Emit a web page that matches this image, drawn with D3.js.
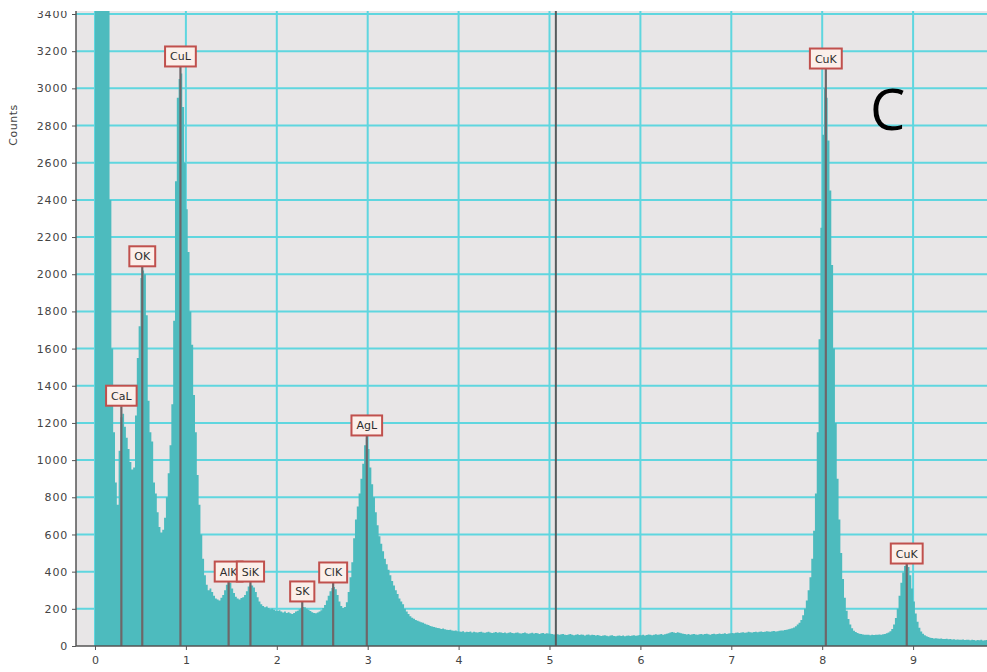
<!DOCTYPE html>
<html>
<head>
<meta charset="utf-8">
<script src="https://cdn.jsdelivr.net/npm/d3@7"></script>
<style>
  html, body { margin: 0; padding: 0; background: #ffffff; }
  svg { display: block; }
</style>
</head>
<body>
<svg id="chart" width="987" height="672"></svg>
<script>
// EDS spectrum: counts per 0.02 keV channel, starting at 0 keV
const channelWidth = 0.02;
const spectrumCounts = [
  // 0.00 - 0.48
  4800, 6500, 7800, 8200, 7600, 6200, 4600, 3550, 2400, 1600, 1150, 880, 760, 1050, 1230, 1250, 1180, 1120, 1060, 990, 950, 960, 1240, 1550, 1720,
  // 0.50 - 0.98
  1980, 2020, 2000, 1780, 1320, 1150, 1100, 880, 820, 720, 640, 610, 625, 690, 800, 930, 1080, 1300, 1750, 2500, 2950, 3050, 3080, 2900, 2600,
  // 1.00 - 1.48
  2350, 2120, 1800, 1620, 1350, 1150, 920, 760, 600, 470, 380, 330, 300, 310, 290, 270, 255, 250, 245, 260, 275, 300, 330, 345, 340,
  // 1.50 - 1.98
  310, 285, 265, 255, 250, 258, 262, 275, 295, 320, 330, 325, 315, 290, 262, 240, 225, 215, 208, 212, 205, 198, 202, 195, 190,
  // 2.00 - 2.48
  188, 192, 185, 180, 186, 178, 182, 176, 172, 178, 185, 190, 198, 205, 210, 208, 200, 195, 188, 182, 178, 176, 180, 186, 192,
  // 2.50 - 2.98
  205, 220, 245, 270, 295, 312, 318, 305, 275, 240, 215, 205, 210, 235, 290, 370, 450, 580, 680, 750, 820, 900, 980, 1080, 1120,
  // 3.00 - 3.48
  1060, 960, 870, 800, 720, 650, 590, 550, 510, 470, 440, 410, 380, 350, 325, 300, 280, 255, 240, 225, 200, 185, 172, 160, 152,
  // 3.50 - 3.98
  146, 140, 136, 132, 128, 125, 120, 116, 113, 108, 105, 102, 100, 97, 95, 92, 94, 90, 88, 86, 88, 84, 82, 84, 80,
  // 4.00 - 4.48
  78, 76, 79, 74, 77, 75, 78, 73, 76, 74, 72, 75, 77, 73, 71, 74, 76, 72, 70, 73, 75, 71, 74, 72, 70,
  // 4.50 - 4.98
  72, 69, 71, 74, 70, 68, 71, 73, 69, 67, 70, 72, 68, 66, 69, 71, 67, 70, 68, 65, 68, 70, 66, 69, 67,
  // 5.00 - 5.48
  66, 64, 62, 65, 63, 60, 63, 65, 61, 59, 62, 64, 60, 58, 61, 63, 59, 62, 60, 57, 60, 62, 58, 61, 59,
  // 5.50 - 5.98
  57, 59, 56, 54, 57, 58, 55, 53, 56, 58, 54, 52, 55, 57, 54, 56, 53, 55, 57, 54, 56, 58, 55, 57, 59,
  // 6.00 - 6.48
  58, 60, 57, 59, 62, 60, 58, 61, 63, 60, 62, 64, 61, 63, 66, 68, 72, 75, 73, 70, 74, 71, 68, 66, 64,
  // 6.50 - 6.98
  62, 64, 61, 63, 65, 62, 60, 63, 65, 62, 64, 66, 63, 61, 64, 66, 63, 65, 67, 64, 66, 68, 65, 67, 69,
  // 7.00 - 7.48
  70, 68, 71, 73, 70, 72, 74, 71, 73, 76, 74, 72, 75, 77, 74, 76, 78, 75, 77, 80, 78, 76, 79, 81, 78,
  // 7.50 - 7.98
  80, 82, 84, 83, 86, 88, 90, 93, 96, 100, 106, 115, 125, 140, 165, 200, 245, 300, 370, 470, 620, 820, 1150, 1650, 2250,
  // 8.00 - 8.48
  2750, 3000, 2950, 2720, 2450, 2050, 1600, 1200, 900, 680, 500, 360, 260, 190, 145, 115, 95, 82, 75, 70, 66, 64, 62, 60, 61,
  // 8.50 - 8.98
  60, 58, 60, 59, 61, 60, 62, 61, 63, 65, 68, 72, 80, 92, 115, 150, 200, 270, 340, 395, 430, 440, 425, 380, 310,
  // 9.00 - 9.48
  240, 175, 130, 98, 78, 66, 58, 52, 48, 45, 43, 41, 42, 40, 39, 41, 38, 37, 39, 36, 37, 35, 36, 34, 35,
  // 9.50 - 9.82
  34, 33, 35, 32, 34, 33, 31, 33, 32, 30, 32, 31, 33, 30, 31, 32, 30
];

// Identified element lines: energy (keV) and height of the tag (counts)
const markerNames = ["CaL", "OK", "CuL", "AlK", "SiK", "SK", "ClK", "AgL", "CuK", "CuK"];
const markerEnergies = [0.29, 0.52, 0.94, 1.47, 1.71, 2.28, 2.62, 2.99, 8.04, 8.93];
const markerCounts = [1290, 2040, 3115, 344, 344, 237, 339, 1130, 3104, 441];

// Cursor position (keV)
const cursorEnergy = [5.07];

// Axis ticks
const xTicks = [0, 1, 2, 3, 4, 5, 6, 7, 8, 9];
const yTicks = [0, 200, 400, 600, 800, 1000, 1200, 1400, 1600, 1800, 2000, 2200, 2400, 2600, 2800, 3000, 3200, 3400];

const panelLetter = "C";

const svg = d3.select("#chart");
const W = 987, H = 672;
const plot = { left: 76, right: 987, top: 10, bottom: 646 };
const axisFont = "DejaVu Sans, Verdana, sans-serif";

const x = d3.scaleLinear().domain([-0.209, 9.813]).range([plot.left, plot.right]);
const y = d3.scaleLinear().domain([0, 3400]).range([plot.bottom, 14]);

svg.append("defs").append("clipPath").attr("id", "plotClip")
  .append("rect")
  .attr("x", plot.left).attr("y", plot.top)
  .attr("width", plot.right - plot.left).attr("height", plot.bottom - plot.top);

// plot background
svg.append("rect")
  .attr("x", plot.left).attr("y", plot.top)
  .attr("width", plot.right - plot.left).attr("height", plot.bottom - plot.top)
  .attr("fill", "#e8e6e7");

const inner = svg.append("g").attr("clip-path", "url(#plotClip)");

// grid
inner.append("g").selectAll("line").data(yTicks.filter(d => d > 0)).join("line")
  .attr("x1", plot.left).attr("x2", plot.right)
  .attr("y1", d => y(d)).attr("y2", d => y(d))
  .attr("stroke", "#5fd6df").attr("stroke-width", 2);
inner.append("g").selectAll("line").data(xTicks).join("line")
  .attr("x1", d => x(d)).attr("x2", d => x(d))
  .attr("y1", plot.top).attr("y2", plot.bottom)
  .attr("stroke", "#5fd6df").attr("stroke-width", 2);

// spectrum
const pts = spectrumCounts.map((c, i) => [i * channelWidth, c]);
pts.push([spectrumCounts.length * channelWidth, spectrumCounts[spectrumCounts.length - 1]]);
const area = d3.area()
  .x(d => x(d[0]))
  .y0(y(0))
  .y1(d => y(d[1]))
  .curve(d3.curveStepAfter);
inner.append("path").datum(pts)
  .attr("d", area)
  .attr("fill", "#4dbbbe");

// cursor
inner.selectAll(".cursor").data(cursorEnergy).join("line")
  .attr("class", "cursor")
  .attr("x1", d => x(d)).attr("x2", d => x(d))
  .attr("y1", plot.top).attr("y2", plot.bottom)
  .attr("stroke", "#565b5c").attr("stroke-width", 2);

// element markers
const markers = markerNames.map((n, i) => ({ name: n, e: markerEnergies[i], c: markerCounts[i] }));
inner.append("g").selectAll("line").data(markers).join("line")
  .attr("x1", d => x(d.e)).attr("x2", d => x(d.e))
  .attr("y1", d => y(d.c)).attr("y2", y(0))
  .attr("stroke", "#6e6668").attr("stroke-width", 2.2);

const tags = inner.append("g").selectAll("g").data(markers).join("g")
  .attr("transform", d => `translate(${x(d.e)},${y(d.c)})`);
tags.each(function (d) {
  const g = d3.select(this);
  const rect = g.append("rect");
  const t = g.append("text")
    .attr("x", 0).attr("y", -6.5)
    .attr("text-anchor", "middle")
    .attr("font-family", axisFont)
    .attr("font-size", 11)
    .attr("fill", "#2e2e2e")
    .text(d.name);
  const w = t.node().getComputedTextLength() + 10;
  rect.attr("x", -w / 2).attr("y", -20.5).attr("width", w).attr("height", 20)
    .attr("fill", "#fbefea").attr("stroke", "#c0504d").attr("stroke-width", 2);
});

// axes
const yAxis = d3.axisLeft(y).tickValues(yTicks).tickSize(4).tickPadding(4).tickFormat(d3.format("d"));
const gy = svg.append("g").attr("transform", `translate(${plot.left},0)`).call(yAxis);
gy.select(".domain").attr("stroke", "#555").attr("stroke-width", 1.5)
  .attr("d", `M0,${plot.top}V${plot.bottom}`);
gy.selectAll(".tick line").attr("stroke", "#555");
gy.selectAll(".tick text").attr("font-family", axisFont)
  .attr("font-size", 11).attr("letter-spacing", 0.8).attr("fill", "#444");

const xAxis = d3.axisBottom(x).tickValues(xTicks).tickSize(4).tickPadding(6).tickFormat(d3.format("d"));
const gx = svg.append("g").attr("transform", `translate(0,${plot.bottom})`).call(xAxis);
gx.select(".domain").attr("stroke", "#555").attr("stroke-width", 1.5)
  .attr("d", `M${plot.left},0H${plot.right}`);
gx.selectAll(".tick line").attr("stroke", "#555");
gx.selectAll(".tick text").attr("font-family", axisFont)
  .attr("font-size", 11).attr("fill", "#444");

// y label
svg.append("text")
  .attr("transform", "translate(17,125) rotate(-90)")
  .attr("text-anchor", "middle")
  .attr("font-family", axisFont)
  .attr("font-size", 11)
  .attr("letter-spacing", 0.5)
  .attr("fill", "#444")
  .text("Counts");

// panel letter
svg.append("text")
  .attr("x", 870).attr("y", 130)
  .attr("font-family", "Open Sans, sans-serif")
  .attr("font-size", 56)
  .attr("fill", "#000")
  .text(panelLetter);

// top margin band
svg.append("rect").attr("x", 0).attr("y", 0).attr("width", W).attr("height", plot.top + 1).attr("fill", "#ffffff");
</script>
</body>
</html>
